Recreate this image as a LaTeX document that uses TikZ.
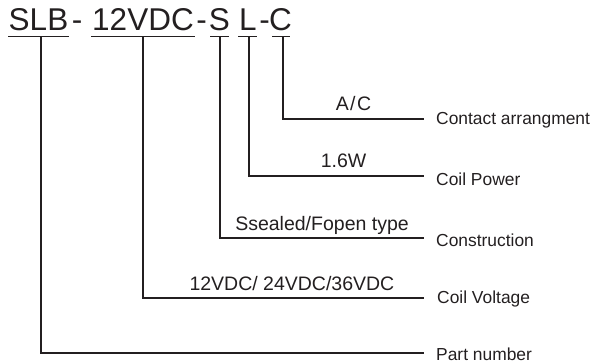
\documentclass[tikz,border=0pt]{standalone}
\usepackage{fontspec}
\setmainfont{Liberation Sans}
\usepackage{tikz}
\usetikzlibrary{positioning,calc}
\definecolor{trait}{RGB}{35,31,32}

\begin{document}
\begin{tikzpicture}[x=1pt,y=-1pt,
    code/.style={font=\fontsize{31.5}{36}\selectfont,inner sep=0pt,anchor=base,text=trait},
    val/.style={font=\fontsize{19.5}{23}\selectfont,inner sep=0pt,anchor=base,text=trait,yshift=8pt},
    lbl/.style={font=\fontsize{17.4}{20}\selectfont,inner sep=0pt,text=trait},
    lien/.style={draw=trait,line width=1.1pt}]
  \useasboundingbox (0,0) rectangle (593,363);
  % reference code
  \node[code] (slb) at (38.5,31) {SLB};
  \node[code] (t1) at (77,31) {-};
  \node[code] (vdc) at (143,31) {12VDC};
  \node[code] (t2) at (201.5,31) {-};
  \node[code] (s) at (219.5,31) {S};
  \node[code] (l) at (248,31) {L};
  \node[code] (t3) at (264.5,31) {-};
  \node[code] (c) at (280.5,31) {C};
  \foreach \a/\b in {8/69,91/195,210/229,238/257,272/290}{
    \draw[lien] (\a,36.5)--(\b,36.5);}
  % points de depart et d'arrivee
  \coordinate (slbT) at (41,36.5);   \coordinate (slbE) at (424,353);
  \coordinate (vdcT) at (143,36.5);  \coordinate (vdcE) at (424,298);
  \coordinate (sT) at (220,36.5);    \coordinate (sE) at (424,238);
  \coordinate (lT) at (249,36.5);    \coordinate (lE) at (424,176);
  \coordinate (cT) at (283,36.5);    \coordinate (cE) at (424,119);
  % connecteurs
  \draw[lien] (cT) |- (cE) node[val,pos=0.75]{A\kern1.5pt/\kern1.5pt C};
  \draw[lien] (lT) |- (lE) node[val,pos=0.77]{1.6W};
  \draw[lien] (sT) |- (sE) node[val,pos=0.75]{Ssealed/Fopen type};
  \draw[lien] (vdcT) |- (vdcE) node[val,pos=0.765]{12VDC/ 24VDC/36VDC};
  \draw[lien] (slbT) |- (slbE);
  % libelles
  \node[lbl,right=12pt of cE,yshift=-1pt] (ca) {Contact arrangment};
  \node[lbl,right=12pt of lE,yshift=-3pt] (cp) {Coil Power};
  \node[lbl,right=12pt of sE,yshift=-2pt] (co) {Construction};
  \node[lbl,right=13pt of vdcE,yshift=-1pt] (cv) {Coil Voltage};
  \node[lbl,right=12pt of slbE,yshift=-1pt] (pn) {Part number};
\end{tikzpicture}
\end{document}
